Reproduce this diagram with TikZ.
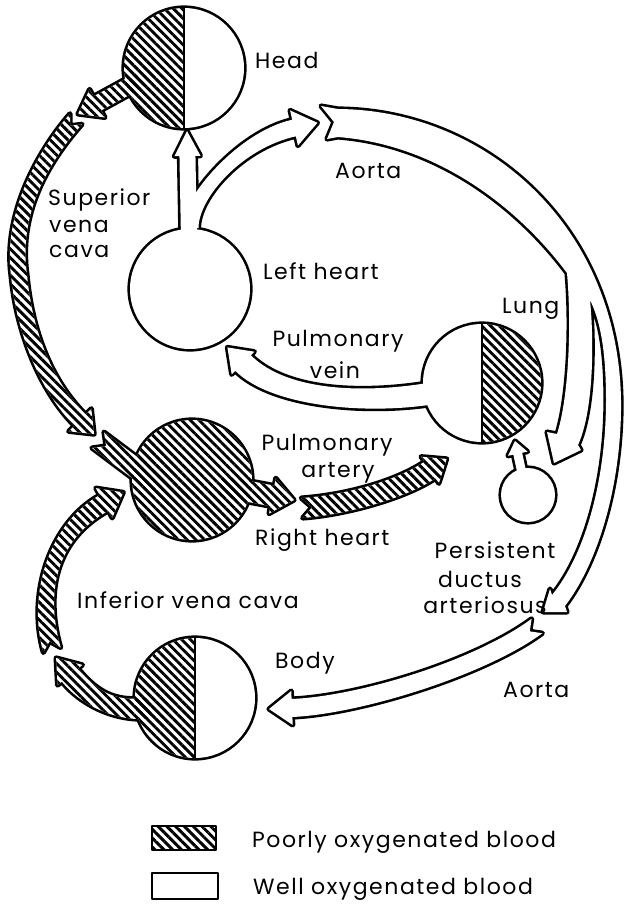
\documentclass[tikz,border=0pt]{standalone}
\usepackage{fontspec}
\setmainfont{Poppins}[LetterSpace=7]
\usetikzlibrary{calc,patterns.meta}

% offset coordinates of a cubic band segment
\newcommand{\offseg}[6]{%
  \coordinate (#1-a0) at ($(#2)!#6!90:(#3)$);
  \coordinate (#1-a1) at ($(#3)!#6!-90:(#2)$);
  \coordinate (#1-a2) at ($(#4)!#6!90:(#5)$);
  \coordinate (#1-a3) at ($(#5)!#6!-90:(#4)$);
  \coordinate (#1-b0) at ($(#2)!#6!-90:(#3)$);
  \coordinate (#1-b1) at ($(#3)!#6!90:(#2)$);
  \coordinate (#1-b2) at ($(#4)!#6!-90:(#5)$);
  \coordinate (#1-b3) at ($(#5)!#6!90:(#4)$);
}
% arrow head at the end of a segment
\newcommand{\headc}[5]{%
  \coordinate (#1-ha) at ($(#3)!#4!-90:(#2)$);
  \coordinate (#1-hb) at ($(#3)!#4!90:(#2)$);
  \coordinate (#1-tip) at ($(#3)!#5!180:(#2)$);
}
% straight fat arrow
\newcommand{\sarrowc}[6]{%
  \coordinate (#1-tip) at (#3);
  \coordinate (#1-H) at ($(#3)!#6!(#2)$);
  \coordinate (#1-a0) at ($(#2)!#4!90:(#3)$);
  \coordinate (#1-b0) at ($(#2)!#4!-90:(#3)$);
  \coordinate (#1-a1) at ($(#1-H)!#4!-90:(#2)$);
  \coordinate (#1-b1) at ($(#1-H)!#4!90:(#2)$);
  \coordinate (#1-ha) at ($(#1-H)!#5!-90:(#2)$);
  \coordinate (#1-hb) at ($(#1-H)!#5!90:(#2)$);
}
\newcommand{\curvepath}[1]{(#1-a0) .. controls (#1-a1) and (#1-a2) .. (#1-a3) -- (#1-ha) -- (#1-tip) -- (#1-hb) -- (#1-b3) .. controls (#1-b2) and (#1-b1) .. (#1-b0)}
\newcommand{\straightpath}[1]{(#1-a0) -- (#1-a1) -- (#1-ha) -- (#1-tip) -- (#1-hb) -- (#1-b1) -- (#1-b0)}

\begin{document}
\begin{tikzpicture}[x=1pt,y=-1pt,line join=round,
  ol/.style={line width=5.2pt},
  thin/.style={line width=2.6pt},
  hatch/.style={pattern={Lines[angle=-45,distance=6.2pt,line width=2.9pt]}},
  lbl/.style={inner sep=0pt,font=\fontsize{22}{26}\selectfont},
  lblw/.style={lbl,anchor=base west},
  lblc/.style={lbl,anchor=base}]
\useasboundingbox (0,0) rectangle (627,905);
\fill[white] (0,0) rectangle (627,905);

% centres
\coordinate (head) at (184,68);
\coordinate (lh) at (190,289);
\coordinate (lung) at (482,383);
\coordinate (rh) at (192,480);
\coordinate (body) at (195,698);
\coordinate (duct) at (528,495);

% arrow geometry
\sarrowc{ho}{140,80}{78,114}{8pt}{16pt}{22pt}
\offseg{sa}{76,119}{47,152}{10,210}{19,275}{8pt}
\offseg{sb}{19,275}{24,330}{45,385}{80,420}{8pt}
\headc{sb}{45,385}{80,420}{16pt}{20pt}
\coordinate (sa-n) at ($(76,119)!9pt!(47,152)$);
\sarrowc{st}{189,240}{187,131}{8pt}{13pt}{25pt}
\offseg{br}{190,228}{190,198}{240,140}{294,128}{8.5pt}
\headc{br}{240,140}{294,128}{18pt}{24pt}
\offseg{pv}{440,392}{370,405}{280,400}{243,363}{11pt}
\headc{pv}{280,400}{243,363}{16pt}{22pt}
\sarrowc{ri}{98,440}{190,509}{10pt}{10pt}{10pt}
\coordinate (ri-n) at ($(98,440)!10pt!(190,509)$);
\sarrowc{ro}{220,486}{294,500}{10.5pt}{18pt}{22pt}
\offseg{pa}{302,508}{345,505}{400,490}{430,470}{10pt}
\headc{pa}{400,490}{430,470}{16pt}{20pt}
\coordinate (pa-n) at ($(302,508)!10pt!(345,505)$);
\offseg{iv}{52,650}{35,590}{55,530}{104,503}{9pt}
\headc{iv}{55,530}{104,503}{17pt}{22pt}
\coordinate (iv-n) at ($(52,650)!9pt!(35,590)$);
\offseg{bo}{150,708}{120,712}{92,702}{70,675}{10.5pt}
\headc{bo}{92,702}{70,675}{16pt}{22pt}
\offseg{ba}{537,626}{480,668}{360,705}{292,708}{9pt}
\headc{ba}{360,705}{292,708}{17pt}{23pt}
\coordinate (ba-n) at ($(537,626)!9pt!(480,668)$);
\sarrowc{da}{523,478}{515,441}{4.5pt}{10pt}{13pt}

\def\pHO{\straightpath{ho} -- cycle}
\def\pSVC{(sa-a0) .. controls (sa-a1) and (sa-a2) .. (sa-a3) -- (sb-a0) .. controls (sb-a1) and (sb-a2) .. (sb-a3) -- (sb-ha) -- (sb-tip) -- (sb-hb) -- (sb-b3) .. controls (sb-b2) and (sb-b1) .. (sb-b0) -- (sa-b3) .. controls (sa-b2) and (sa-b1) .. (sa-b0) -- (sa-n) -- cycle}
\def\pST{\straightpath{st} -- cycle}
\def\pBR{\curvepath{br} -- cycle}
\def\pPV{\curvepath{pv} -- cycle}
\def\pRI{\straightpath{ri} -- (ri-n) -- cycle}
\def\pRO{\straightpath{ro} -- cycle}
\def\pPA{\curvepath{pa} -- (pa-n) -- cycle}
\def\pIV{\curvepath{iv} -- (iv-n) -- cycle}
\def\pBO{\curvepath{bo} -- cycle}
\def\pBA{\curvepath{ba} -- (ba-n) -- cycle}
\def\pDA{\straightpath{da} -- cycle}
\def\pAO{(321,106) -- (338,109) .. controls (485,110) and (618,225) .. (621,400) .. controls (622,480) and (600,560) .. (565,606) -- (567,612) -- (543,612) -- (550,589) -- (552,595) .. controls (585,555) and (606,480) .. (606,400) .. controls (606,350) and (600,320) .. (590,300) .. controls (594,340) and (594,410) .. (578,445) -- (581,450) -- (554,463) -- (547,432) -- (557,434) .. controls (568,400) and (572,330) .. (567,273) .. controls (520,210) and (440,145) .. (338,137) -- (327,139) -- (334,122) -- cycle}

% ---- aorta
\draw[ol] \pAO; \fill[white] \pAO;
% ---- body aorta
\draw[ol] \pBA; \fill[white] \pBA;

% ---- head
\draw[ol] (head) circle[radius=60]; \draw[ol] \pHO;
\fill[white] (head) circle[radius=60]; \fill[white] \pHO;
\fill[hatch] (head) ++(90:60) arc[start angle=90,end angle=270,radius=60] -- cycle;
\fill[hatch] \pHO;
\draw[thin] (head) ++(0,-60) -- ++(0,120);

% ---- superior vena cava
\draw[ol] \pSVC; \fill[white] \pSVC; \fill[hatch] \pSVC;

% ---- left heart
\draw[ol] (lh) circle[radius=60]; \draw[ol] \pST; \draw[ol] \pBR;
\fill[white] (lh) circle[radius=60]; \fill[white] \pST; \fill[white] \pBR;

% ---- lung
\draw[ol] (lung) circle[radius=59]; \draw[ol] \pPV;
\fill[white] (lung) circle[radius=59]; \fill[white] \pPV;
\fill[hatch] (lung) ++(-90:59) arc[start angle=-90,end angle=90,radius=59] -- cycle;
\draw[thin] (lung) ++(0,-59) -- ++(0,118);

% ---- right heart
\draw[ol] (rh) circle[radius=60]; \draw[ol] \pRI; \draw[ol] \pRO;
\fill[white] (rh) circle[radius=60]; \fill[white] \pRI; \fill[white] \pRO;
\fill[hatch] (rh) circle[radius=60]; \fill[hatch] \pRI; \fill[hatch] \pRO;

% ---- pulmonary artery
\draw[ol] \pPA; \fill[white] \pPA; \fill[hatch] \pPA;

% ---- inferior vena cava
\draw[ol] \pIV; \fill[white] \pIV; \fill[hatch] \pIV;

% ---- body
\draw[ol] (body) circle[radius=60]; \draw[ol] \pBO;
\fill[white] (body) circle[radius=60]; \fill[white] \pBO;
\fill[hatch] (body) ++(90:60) arc[start angle=90,end angle=270,radius=60] -- cycle;
\fill[hatch] \pBO;
\draw[thin] (body) ++(0,-60) -- ++(0,120);

% ---- ductus
\draw[ol] (duct) circle[radius=27]; \draw[ol] \pDA;
\fill[white] (duct) circle[radius=27]; \fill[white] \pDA;

% ---- legend
\coordinate (k1) at (152,826); \coordinate (k2) at (216,850);
\coordinate (k3) at (152,873); \coordinate (k4) at (218,899);
\fill[white] (k1) rectangle (k2); \fill[hatch] (k1) rectangle (k2);
\draw[thin] (k1) rectangle (k2);
\draw[thin] (k3) rectangle (k4);

% ---- labels
\node[lblw] (tHead) at (255,68) {Head};
\node[lblw] (tAorta1) at (335,178) {Aorta};
\node[lblw] (tSup1) at (48,205) {Superior};
\node[lblw] (tSup2) at (49,232) {vena};
\node[lblw] (tSup3) at (49,257) {cava};
\node[lblw] (tLeft) at (263,279) {Left heart};
\node[lblw] (tLung) at (502,313) {Lung};
\node[lblc] (tPV1) at (338,346) {Pulmonary};
\node[lblc] (tPV2) at (335,378) {vein};
\node[lblc] (tPA1) at (327,450) {Pulmonary};
\node[lblc] (tPA2) at (338,477) {artery};
\node[lblw] (tRight) at (255,545) {Right heart};
\node[lblw] (tIVC) at (77,608) {Inferior vena cava};
\node[lblw] (tBody) at (275,668) {Body};
\node[lblc] (tPer1) at (495,558) {Persistent};
\node[lblc] (tPer2) at (480,587) {ductus};
\node[lblc] (tPer3) at (485,613) {arteriosus};
\node[lblw] (tAorta2) at (503,697) {Aorta};
\node[lblw] (tLeg1) at (252,847) {Poorly oxygenated blood};
\node[lblw] (tLeg2) at (253,894) {Well oxygenated blood};
\end{tikzpicture}
\end{document}
